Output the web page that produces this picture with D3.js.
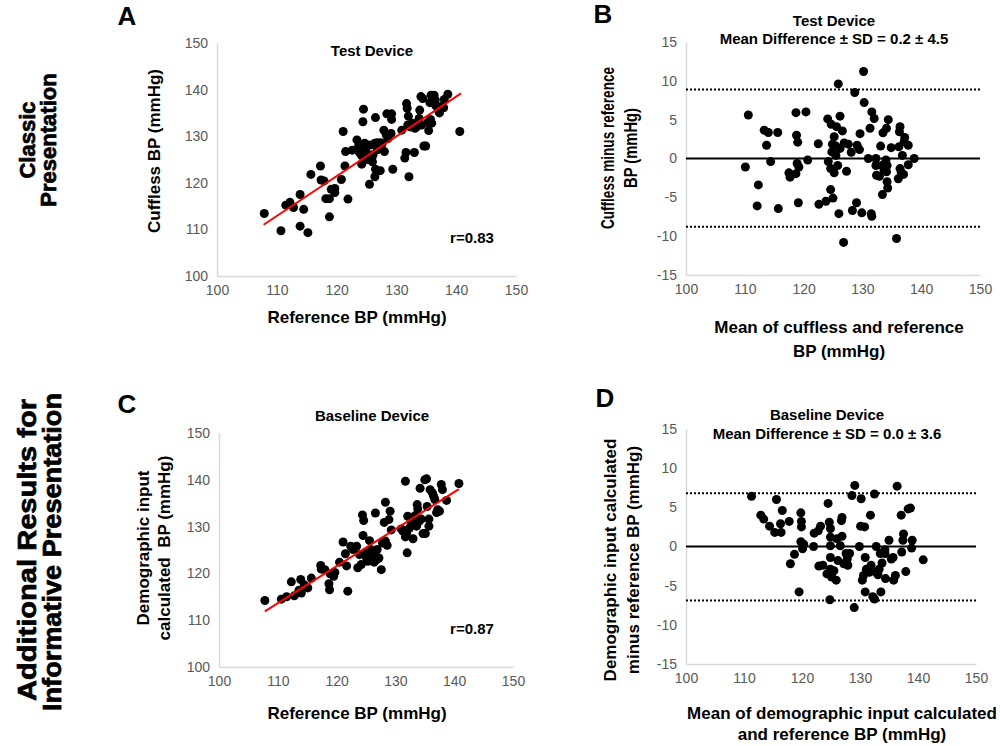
<!DOCTYPE html>
<html>
<head>
<meta charset="utf-8">
<script src="https://cdn.jsdelivr.net/npm/d3@7"></script>
<style>
  body { margin: 0; background: #fff; }
  svg text { font-family: "Liberation Sans", Arial, sans-serif; }
</style>
</head>
<body>
<div id="chart"></div>
<script>
// ---- data ----
const bpTicks = [100, 110, 120, 130, 140, 150];
const diffTicks = [-15, -10, -5, 0, 5, 10, 15];

// A: test device, reference vs cuffless
const testRef = [
  107.9,110.7,111.5,112.2,112.8,113.9,114.5,113.9,115.2,115.7,
  117.3,117.4,117.9,118.2,118.8,118.8,119.1,119.7,119.7,120.8,
  121.1,121.4,121.5,121.9,122.6,123.4,123.7,123.8,124.2,124.2,
  124.4,124.5,124.7,124.9,125.3,125.5,125.6,125.9,126.0,126.1,
  126.4,126.5,126.4,126.5,126.8,127.3,127.4,127.9,128.0,128.3,
  128.4,128.6,129.1,129.2,129.2,129.4,130.9,131.4,131.6,131.7,
  131.8,131.9,132.0,132.1,132.3,132.7,133.0,133.1,133.4,133.8,
  133.9,134.1,134.2,134.4,134.6,134.9,135.2,135.4,135.6,135.7,
  135.8,135.9,136.3,136.5,136.6,137.0,137.2,137.4,138.0,137.9,
  138.6,140.6,124.9,125.2,126.8,127.6];
const testCuffless = [
  113.4,109.7,115.2,115.8,114.7,117.5,114.3,110.7,109.3,121.8,
  123.6,120.6,120.4,116.6,116.6,112.7,118.6,117.9,118.8,120.7,
  131.0,123.6,126.7,116.5,127.0,129.2,128.0,126.5,125.8,124.0,
  133.1,135.8,128.5,126.7,126.0,119.7,128.1,125.3,124.5,126.0,
  128.5,134.0,121.3,122.9,128.6,122.6,128.6,131.3,126.7,130.3,
  134.8,129.5,130.6,134.8,133.6,122.9,131.3,125.3,126.5,137.0,
  136.0,132.4,134.3,121.3,132.0,132.8,126.5,131.7,132.0,133.8,
  135.6,138.5,132.4,138.1,127.9,127.9,132.9,131.2,137.2,133.6,
  138.8,132.8,138.8,137.8,136.5,135.6,135.0,136.4,137.9,136.1,
  139.0,131.0,127.5,125.0,127.1,128.3];
const testFitX = [107.8, 140.8];
const testFitY = [111.0, 139.2];

// B: test device, Bland-Altman
const testMean = [
  110.6,110.1,112.3,112.1,113.3,114.0,113.7,114.4,115.6,115.7,
  117.5,117.7,118.7,118.8,119.0,118.7,118.9,119.2,119.1,120.4,
  120.7,122.5,122.6,123.8,124.1,124.2,124.6,124.7,124.8,124.9,
  125.0,125.2,125.2,125.5,125.5,125.6,125.8,126.0,125.9,126.2,
  126.2,126.6,126.8,126.9,127.3,127.6,128.1,128.3,128.7,129.0,
  129.1,129.5,129.6,129.9,130.2,130.3,131.0,131.3,131.5,131.6,
  131.6,132.0,132.3,132.3,132.4,132.9,133.1,133.3,133.4,133.5,
  133.7,134.0,134.1,134.1,134.2,134.3,134.4,134.2,134.9,135.8,
  136.1,136.2,136.3,136.4,136.4,136.6,136.8,137.0,137.1,137.2,
  137.8,137.8,138.8,124.6];
const testDiff = [
  5.6,-1.1,-3.4,-6.1,3.65,3.35,1.7,-0.4,3.35,-6.45,
  -1.85,-2.4,5.9,3.0,2.1,-1.95,-0.65,-1.1,-5.7,6.0,
  -0.2,1.9,-5.9,-5.5,5.1,-0.4,-4.0,4.4,0.85,1.85,
  -5.1,2.8,-1.85,1.6,0.4,4.1,-0.9,-7.1,9.6,5.45,
  1.3,3.55,-10.8,2.0,-1.65,1.85,0.8,-6.7,8.5,-5.7,
  1.7,1.15,3.2,-7.0,11.2,7.2,0.0,3.9,-7.1,-7.45,
  6.0,5.15,0.0,-0.9,-2.15,-2.3,1.6,-0.9,-4.65,3.3,
  -1.5,-0.2,3.9,-1.7,-3.0,-3.8,5.0,-0.9,1.4,-10.3,
  -2.6,1.5,3.45,4.1,-1.3,-1.8,0.4,-2.05,2.15,2.7,
  1.7,-0.8,0.0,-1.3];
const testLimits = [8.9, -8.8];

// C: baseline device, reference vs calculated
const baseRef = [
  107.8,110.6,111.5,112.3,112.8,113.6,113.9,114.0,114.5,115.1,
  115.7,117.3,117.4,118.0,118.7,118.8,118.9,119.5,119.7,120.5,
  121.1,121.5,121.7,121.9,122.4,122.8,123.4,123.6,123.9,124.2,
  124.4,124.5,124.6,124.8,125.1,125.3,125.6,125.8,125.9,126.2,
  126.4,126.6,126.6,126.8,127.2,127.6,127.8,128.1,128.3,128.3,
  128.6,128.9,129.1,129.3,131.0,131.3,131.7,131.7,131.9,132.0,
  132.1,132.4,132.7,133.0,133.3,133.6,133.7,133.8,134.0,134.2,
  134.4,134.7,135.0,135.1,135.3,135.4,135.7,135.7,135.9,136.3,
  136.5,136.7,137.0,137.2,137.5,137.8,138.0,138.7,140.8,125.8,
  126.9,133.6];
const baseCalc = [
  114.2,114.5,115.0,118.2,115.2,116.4,118.7,115.8,117.6,116.9,
  119.0,121.7,120.9,120.8,117.8,116.5,119.9,119.4,120.2,122.4,
  126.7,124.2,121.6,116.2,125.8,125.1,125.8,121.2,124.0,121.9,
  132.5,128.1,131.3,124.4,123.3,122.6,127.0,125.1,123.6,124.4,
  122.4,132.9,124.7,122.9,123.3,120.8,126.5,130.9,135.2,126.9,
  126.0,131.5,133.3,129.3,129.5,129.0,139.7,127.8,128.6,124.4,
  132.2,129.7,130.8,127.4,132.3,130.1,134.7,133.8,131.1,138.2,
  131.6,128.5,140.0,128.5,140.2,134.3,131.6,130.1,137.9,137.2,
  136.5,135.8,133.0,133.6,133.3,139.0,137.9,135.6,139.2,124.2,
  125.1,131.5];
const baseFitX = [107.8, 140.8];
const baseFitY = [111.9, 138.0];

// D: baseline device, Bland-Altman
const baseMean = [
  111.3,112.9,113.4,114.4,115.3,115.6,116.3,116.4,116.6,117.8,
  118.0,118.7,119.5,119.8,119.9,119.9,119.8,120.1,120.3,122.0,
  122.1,122.8,122.9,123.2,123.6,124.3,124.5,124.7,124.9,124.9,
  124.9,124.9,124.9,124.8,125.1,125.5,125.9,126.2,126.6,126.8,
  126.9,126.9,127.6,127.8,127.9,128.2,128.6,129.0,129.1,129.9,
  130.1,130.2,130.4,130.6,130.8,130.9,130.9,131.1,131.6,131.8,
  131.9,132.2,132.5,132.5,132.8,132.8,133.1,133.3,133.5,133.6,
  133.8,134.3,134.4,135.0,135.4,135.7,135.8,136.1,136.4,137.1,
  137.2,137.4,137.5,137.9,138.3,138.7,138.9,139.0,140.9,127.2,
  134.3,126.0];
const baseDiff = [
  6.4,4.0,3.5,2.6,1.8,6.0,2.9,1.8,4.6,3.2,
  -2.2,-1.0,-5.8,4.3,3.2,2.5,0.6,-0.3,0.3,0.0,
  1.7,2.0,-2.5,2.6,-2.4,-3.5,5.5,3.1,2.3,1.2,
  0.1,-1.4,-2.9,-6.8,-3.9,-3.1,-4.3,-1.8,0.1,3.3,
  3.7,1.3,-0.9,-1.6,-2.4,-0.9,6.5,-7.8,7.8,0.0,
  2.6,6.1,-4.3,-3.7,2.5,-1.4,-5.8,-2.9,-3.3,4.0,
  -2.4,-6.4,6.7,-6.7,-3.3,0.0,-3.6,-2.9,-0.9,-5.8,
  -2.1,-0.4,-4.1,0.8,-1.6,-1.4,-4.3,-3.7,7.7,4.0,
  -0.7,0.8,1.6,-3.2,4.8,4.9,-0.2,0.8,-1.7,-2.2,
  -0.9,1.0];
const baseLimits = [6.8, -6.9];

// ---- drawing ----
const width = 1000, height = 746;

const svg = d3.select("#chart").append("svg")
    .attr("width", width)
    .attr("height", height);

svg.append("rect").attr("width", width).attr("height", height).attr("fill", "#fff");

function addText(x, y, str, size, opts) {
    opts = opts || {};
    const t = svg.append("text")
        .attr("x", x).attr("y", y)
        .attr("text-anchor", opts.anchor || "middle")
        .attr("font-size", size)
        .attr("font-weight", "bold")
        .attr("fill", "#000")
        .style("white-space", "pre")
        .text(str);
    if (opts.rotate) t.attr("transform", `rotate(-90, ${x}, ${y})`);
    if (opts.len) t.attr("textLength", opts.len).attr("lengthAdjust", "spacingAndGlyphs");
    if (opts.heavy) t.attr("stroke", "#000").attr("stroke-width", opts.heavy);
    return t;
}

function panel(p) {
    const x = d3.scaleLinear().domain([100, 150]).range(p.xRange);
    const y = d3.scaleLinear().domain(p.yDomain).range(p.yRange);
    const g = svg.append("g");

    const xAxis = g.append("g")
        .attr("transform", `translate(0,${p.yRange[0]})`)
        .call(d3.axisBottom(x).tickValues(bpTicks).tickSize(0).tickPadding(9).tickFormat(d => String(d)));
    const yAxis = g.append("g")
        .attr("transform", `translate(${p.xRange[0]},0)`)
        .call(d3.axisLeft(y).tickValues(p.yTicks).tickSize(0).tickPadding(9).tickFormat(d => String(d)));
    [xAxis, yAxis].forEach(a => {
        a.attr("font-size", 14).attr("font-family", null);
        a.select(".domain").attr("stroke", "#d9d9d9").attr("stroke-width", 1.5);
        a.selectAll("text").attr("fill", "#595959");
    });

    if (p.limits) {
        // zero line and limits of agreement
        g.append("line")
            .attr("x1", x(100)).attr("x2", x(150))
            .attr("y1", y(0)).attr("y2", y(0))
            .attr("stroke", "#000").attr("stroke-width", 2);
        g.selectAll("line.loa")
            .data(p.limits)
            .enter().append("line")
            .attr("class", "loa")
            .attr("x1", x(100)).attr("x2", x(150))
            .attr("y1", d => y(d)).attr("y2", d => y(d))
            .attr("stroke", "#000").attr("stroke-width", 2)
            .attr("stroke-dasharray", "2,2");
    }

    g.selectAll("circle")
        .data(p.xs.map((v, i) => [v, p.ys[i]]))
        .enter().append("circle")
        .attr("cx", d => x(d[0]))
        .attr("cy", d => y(d[1]))
        .attr("r", 4.5)
        .attr("fill", "#000");

    if (p.fitX) {
        g.append("line")
            .attr("x1", x(p.fitX[0])).attr("y1", y(p.fitY[0]))
            .attr("x2", x(p.fitX[1])).attr("y2", y(p.fitY[1]))
            .attr("stroke", "#ff0000").attr("stroke-width", 2);
    }
}

panel({xs: testRef, ys: testCuffless, xRange: [217, 516], yRange: [276, 43],
       yDomain: [100, 150], yTicks: bpTicks, fitX: testFitX, fitY: testFitY});
panel({xs: testMean, ys: testDiff, xRange: [686, 980], yRange: [275, 42],
       yDomain: [-15, 15], yTicks: diffTicks, limits: testLimits});
panel({xs: baseRef, ys: baseCalc, xRange: [219, 513], yRange: [667, 433],
       yDomain: [100, 150], yTicks: bpTicks, fitX: baseFitX, fitY: baseFitY});
panel({xs: baseMean, ys: baseDiff, xRange: [686, 976], yRange: [664, 429],
       yDomain: [-15, 15], yTicks: diffTicks, limits: baseLimits});

// panel letters
addText(127, 25, "A", 26);
addText(603, 23, "B", 26);
addText(127, 413, "C", 26);
addText(605, 407, "D", 26);

// row labels
addText(35, 140, "Classic", 22, {rotate: true, heavy: 0.7});
addText(56, 140, "Presentation", 22, {rotate: true, heavy: 0.7});
addText(36, 550, "Additional Results for", 26, {rotate: true, heavy: 0.7, len: 302});
addText(61, 552, "Informative Presentation", 26, {rotate: true, heavy: 0.7, len: 318});

// chart titles
addText(372, 56, "Test Device", 15);
addText(834, 26, "Test Device", 15);
addText(834, 44, "Mean Difference \u00b1 SD = 0.2 \u00b1 4.5", 15);
addText(372, 421, "Baseline Device", 15);
addText(827, 420, "Baseline Device", 15);
addText(827, 439, "Mean Difference \u00b1 SD = 0.0 \u00b1 3.6", 15);

// r values
addText(472, 243, "r=0.83", 15);
addText(472, 634, "r=0.87", 15);

// axis titles
addText(160, 151, "Cuffless BP (mmHg)", 17, {rotate: true});
addText(357, 323, "Reference BP (mmHg)", 17);

addText(614, 148, "Cuffless minus reference", 18, {rotate: true, len: 162});
addText(637, 148, "BP (mmHg)", 18, {rotate: true, len: 80});
addText(839, 333, "Mean of cuffless and reference", 17);
addText(839, 357, "BP (mmHg)", 17);

addText(149, 548, "Demographic input", 17, {rotate: true});
addText(170, 548, "calculated  BP (mmHg)", 17, {rotate: true});
addText(357, 719, "Reference BP (mmHg)", 17);

addText(616, 560, "Demographic input calculated", 17, {rotate: true});
addText(639, 560, "minus reference BP (mmHg)", 17, {rotate: true});
addText(842, 719, "Mean of demographic input calculated", 17);
addText(842, 740, "and reference BP (mmHg)", 17);
</script>
</body>
</html>
